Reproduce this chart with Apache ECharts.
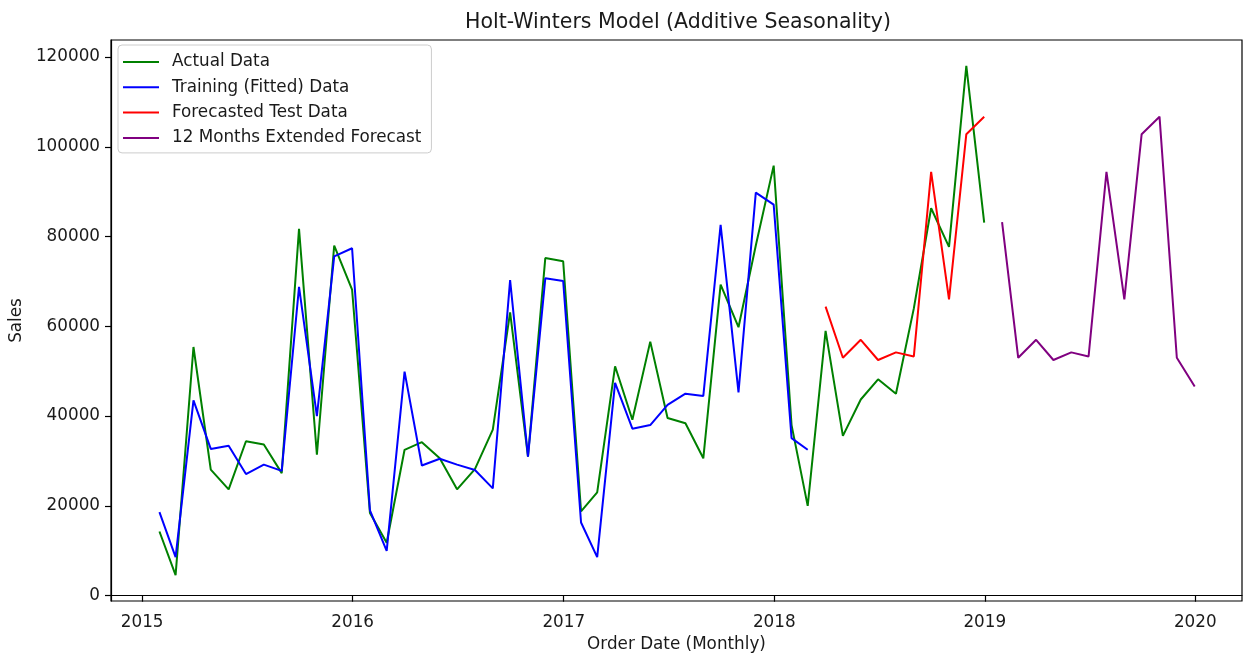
<!DOCTYPE html>
<html>
<head>
<meta charset="utf-8">
<title>Holt-Winters Model (Additive Seasonality)</title>
<script src="https://cdn.jsdelivr.net/npm/echarts@6/dist/echarts.min.js"></script>
<style>
  html, body { margin: 0; padding: 0; background: #ffffff; }
  #chart { width: 1245px; height: 658px; }
</style>
</head>
<body>
<div id="chart"></div>
<script>
// Monthly sales (month-end dates), Holt-Winters fit and forecasts
const actualStart = [2015, 1];     // Jan 2015
const fittedStart = [2015, 1];     // Jan 2015
const testStart = [2018, 3];       // Mar 2018
const extendedStart = [2019, 1];   // Jan 2019

const actualSales = [
  14300, 4600, 55400, 28100, 23700, 34400, 33700, 27300, 81700, 31400, 78000, 68200,
  18400, 11800, 32500, 34200, 30600, 23700, 28200, 37000, 63100, 31000, 75200, 74500,
  18800, 23000, 51100, 39200, 56600, 39600, 38400, 30600, 69300, 59800, 78000, 95800,
  38000, 20000, 59000, 35600, 43700, 48200, 45000, 64000, 86300, 77700, 118000, 83100
];
const fittedSales = [
  18600, 8600, 43500, 32700, 33400, 27100, 29200, 27800, 68800, 40000, 75600, 77400,
  19000, 10000, 49900, 29000, 30500, 29200, 28000, 23900, 70300, 31000, 70700, 70100,
  16300, 8600, 47400, 37200, 38000, 42500, 45000, 44500, 82600, 45300, 89800, 87100,
  35100, 32500
];
const testForecast = [64400, 53000, 57000, 52500, 54200, 53300, 94400, 66000, 102800, 106700];
const extendedForecast = [83200, 53000, 57000, 52500, 54200, 53300, 94400, 66000, 102800, 106700, 53000, 46600];

const yearTicks = [2015, 2016, 2017, 2018, 2019, 2020];
const salesTicks = [0, 20000, 40000, 60000, 80000, 100000, 120000];

// Pair each value with the timestamp of the last day of its month
function monthEndSeries(start, values) {
  return values.map(function (v, i) {
    const d = new Date(start[0], start[1] - 1 + i + 1, 0);
    return [d.getTime(), v];
  });
}
const yearStarts = yearTicks.map(function (y) { return new Date(y, 0, 1).getTime(); });

const font = 'DejaVu Sans';
const ink = '#1a1a1a';
const lineIcon = 'path://M0,0H36V2H0Z';

const chart = echarts.init(document.getElementById('chart'), null, { renderer: 'canvas' });

chart.setOption({
  animation: false,
  backgroundColor: '#ffffff',
  textStyle: { fontFamily: font },
  title: {
    text: 'Holt-Winters Model (Additive Seasonality)',
    left: 673,
    top: 7,
    textAlign: 'center',
    textStyle: { fontFamily: font, fontSize: 20.5, fontWeight: 'normal', color: ink }
  },
  legend: {
    orient: 'vertical',
    left: 118,
    top: 45,
    padding: [8, 10, 6, 5],
    itemGap: 7.3,
    itemWidth: 36,
    itemHeight: 2,
    backgroundColor: 'rgba(255,255,255,0.8)',
    borderColor: '#cccccc',
    borderWidth: 1,
    borderRadius: 4,
    textStyle: { fontFamily: font, fontSize: 16.8, color: ink, lineHeight: 18, padding: [0, 0, 0, 8] },
    data: [
      { name: 'Actual Data', icon: lineIcon },
      { name: 'Training (Fitted) Data', icon: lineIcon },
      { name: 'Forecasted Test Data', icon: lineIcon },
      { name: '12 Months Extended Forecast', icon: lineIcon }
    ]
  },
  grid: {
    left: 111,
    right: 3,
    top: 40,
    bottom: 45,
    show: true,
    borderColor: '#000000',
    borderWidth: 1.2,
    backgroundColor: 'transparent'
  },
  xAxis: {
    type: 'value',
    min: new Date(2014, 10, 8).getTime(),
    max: new Date(2020, 2, 22).getTime(),
    name: 'Order Date (Monthly)',
    nameLocation: 'middle',
    nameGap: 35,
    nameTextStyle: { fontFamily: font, fontSize: 16.8, color: ink },
    axisLine: { show: true, lineStyle: { color: '#000000', width: 1.2 } },
    axisTick: {
      show: true, inside: false, length: 6,
      lineStyle: { color: '#000000', width: 1.2 },
      customValues: yearStarts
    },
    axisLabel: {
      margin: 13,
      fontFamily: font, fontSize: 16.8, color: ink,
      customValues: yearStarts,
      formatter: function (v) { return String(new Date(v).getFullYear()); }
    },
    splitLine: { show: false }
  },
  yAxis: {
    type: 'value',
    min: -1180,
    max: 123780,
    name: 'Sales',
    nameLocation: 'middle',
    nameGap: 82,
    nameRotate: 90,
    nameTextStyle: { fontFamily: font, fontSize: 16.8, color: ink },
    axisLine: { show: true, lineStyle: { color: '#000000', width: 1.2 } },
    axisTick: {
      show: true, inside: false, length: 6,
      lineStyle: { color: '#000000', width: 1.2 },
      customValues: salesTicks
    },
    axisLabel: {
      margin: 11,
      fontFamily: font, fontSize: 16.8, color: ink,
      customValues: salesTicks,
      formatter: function (v) { return String(v); }
    },
    splitLine: { show: false }
  },
  series: [
    {
      name: 'Actual Data', type: 'line', color: '#008000',
      showSymbol: false, symbol: 'none',
      lineStyle: { width: 2, color: '#008000' },
      data: monthEndSeries(actualStart, actualSales)
    },
    {
      name: 'Training (Fitted) Data', type: 'line', color: '#0000ff',
      showSymbol: false, symbol: 'none',
      lineStyle: { width: 2, color: '#0000ff' },
      data: monthEndSeries(fittedStart, fittedSales)
    },
    {
      name: 'Forecasted Test Data', type: 'line', color: '#ff0000',
      showSymbol: false, symbol: 'none',
      lineStyle: { width: 2, color: '#ff0000' },
      data: monthEndSeries(testStart, testForecast)
    },
    {
      name: '12 Months Extended Forecast', type: 'line', color: '#800080',
      showSymbol: false, symbol: 'none',
      lineStyle: { width: 2, color: '#800080' },
      data: monthEndSeries(extendedStart, extendedForecast)
    }
  ]
});
</script>
</body>
</html>
